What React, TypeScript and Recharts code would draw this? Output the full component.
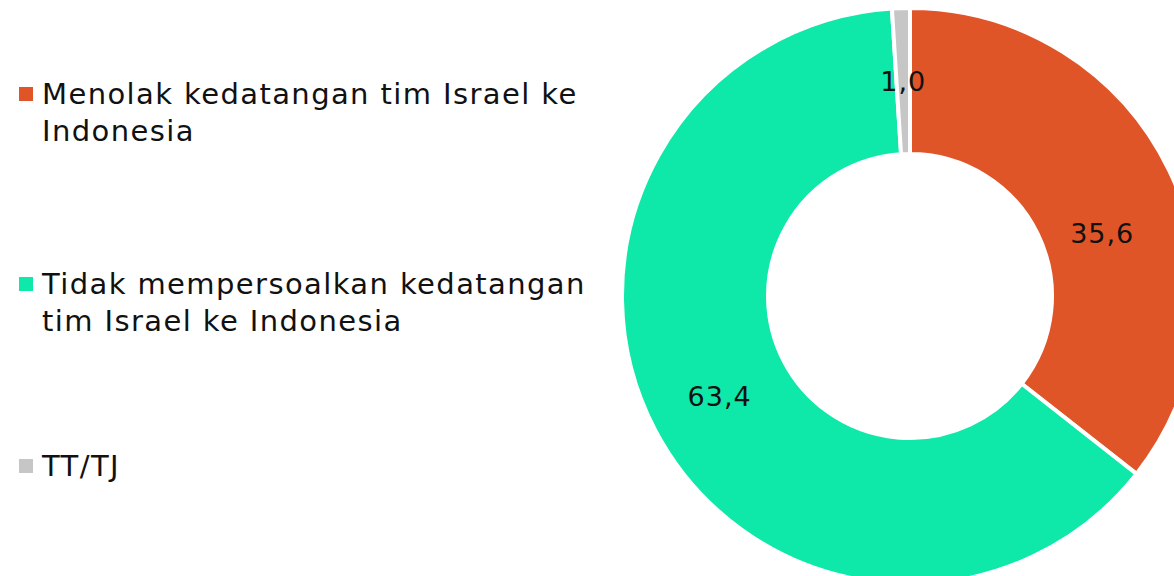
import React from 'react';
import { PieChart, Pie, Cell } from 'recharts';

const categories = [
    'Menolak kedatangan tim Israel ke\nIndonesia',
    'Tidak mempersoalkan kedatangan\ntim Israel ke Indonesia',
    'TT/TJ',
];
const values = [35.6, 63.4, 1.0];
const COLORS = ['#E05528', '#0EE8A8', '#C6C6C6'];

const FONT = '"DejaVu Sans", sans-serif';

const data = categories.map((name, i) => ({ name, value: values[i] }));

const RADIAN = Math.PI / 180;

const renderLabel = (props: any) => {
    const { cx, cy, midAngle, innerRadius, outerRadius, value, index } = props;
    // first label sits a bit lower and closer in the original, nudge it
    const r = (innerRadius + outerRadius) / 2 - (index === 0 ? 13 : 0);
    const angle = index === 0 ? midAngle - 8 : midAngle;
    const x = cx + r * Math.cos(-angle * RADIAN);
    const y = cy + r * Math.sin(-angle * RADIAN);
    return (
        <text
            x={x}
            y={y}
            fill="#111"
            textAnchor="middle"
            dominantBaseline="central"
            style={{ fontFamily: FONT, fontSize: 27, letterSpacing: 1 }}
        >
            {value.toFixed(1).replace('.', ',')}
        </text>
    );
};

// legend item tops, taken from the reference layout
const LEGEND_TOPS = [76, 266, 448];

const ChartLegend = () => (
    <div style={{ position: 'absolute', left: 0, top: 0, width: 600, height: 576 }}>
        {data.map((d, i) => (
            <div
                key={d.name}
                style={{
                    position: 'absolute',
                    left: 19,
                    top: LEGEND_TOPS[i],
                    display: 'flex',
                    alignItems: 'flex-start',
                }}
            >
                <div
                    style={{
                        width: 14,
                        height: 14,
                        marginTop: 11,
                        marginRight: 9,
                        backgroundColor: COLORS[i],
                    }}
                />
                <div
                    style={{
                        fontFamily: FONT,
                        fontSize: 29,
                        lineHeight: '37px',
                        letterSpacing: 1.4,
                        color: '#111',
                        whiteSpace: 'pre-line',
                    }}
                >
                    {d.name}
                </div>
            </div>
        ))}
    </div>
);

const App: React.FC = () => {
    return (
        <div style={{ position: 'absolute', left: 0, top: 0, width: 1174, height: 576, background: '#fff', overflow: 'hidden' }}>
            <PieChart width={1174} height={576} margin={{ top: 0, right: 0, bottom: 0, left: 0 }}>
                <Pie
                    data={data}
                    dataKey="value"
                    nameKey="name"
                    cx={910}
                    cy={296}
                    innerRadius={142}
                    outerRadius={288}
                    startAngle={90}
                    endAngle={-270}
                    stroke="#fff"
                    strokeWidth={4}
                    label={renderLabel}
                    labelLine={false}
                    isAnimationActive={false}
                >
                    {data.map((d, i) => (
                        <Cell key={d.name} fill={COLORS[i]} />
                    ))}
                </Pie>
            </PieChart>
            <ChartLegend />
        </div>
    );
};

export default App;
